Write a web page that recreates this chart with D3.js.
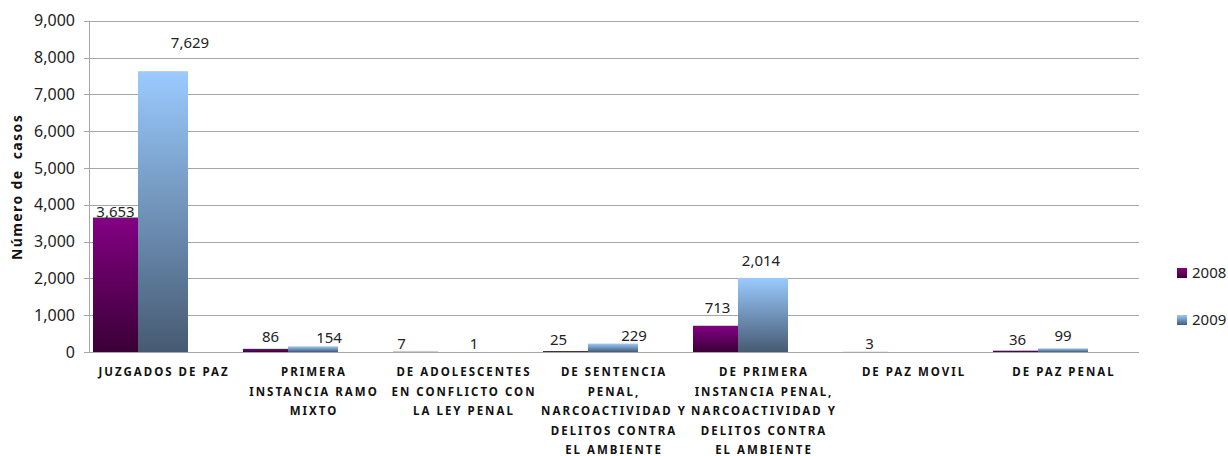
<!DOCTYPE html>
<html><head><meta charset="utf-8">
<script src="https://cdn.jsdelivr.net/npm/d3@7/dist/d3.min.js"></script>
<style>body{margin:0;background:#fff}svg{display:block}</style>
</head><body>
<svg id="c" width="1228" height="456"></svg>
<script>
const categories = ["JUZGADOS DE PAZ","PRIMERA INSTANCIA RAMO MIXTO","DE ADOLESCENTES EN CONFLICTO CON LA LEY PENAL","DE SENTENCIA PENAL, NARCOACTIVIDAD Y DELITOS CONTRA EL AMBIENTE","DE PRIMERA INSTANCIA PENAL, NARCOACTIVIDAD Y DELITOS CONTRA EL AMBIENTE","DE PAZ MOVIL","DE PAZ PENAL"];
const categoryLines = [["JUZGADOS DE PAZ"],["PRIMERA","INSTANCIA RAMO","MIXTO"],["DE ADOLESCENTES","EN CONFLICTO CON","LA LEY PENAL"],["DE SENTENCIA","PENAL,","NARCOACTIVIDAD Y","DELITOS CONTRA","EL AMBIENTE"],["DE PRIMERA","INSTANCIA PENAL,","NARCOACTIVIDAD Y","DELITOS CONTRA","EL AMBIENTE"],["DE PAZ MOVIL"],["DE PAZ PENAL"]];
const seriesNames = ["2008","2009"];
const values2008 = [3653, 86, 7, 25, 713, 3, 36];
const values2009 = [7629, 154, 1, 229, 2014, null, 99];
const yTicks = [0,1000,2000,3000,4000,5000,6000,7000,8000,9000];
const yTitle = "Número de  casos";

// layout: label nudges (px) relative to bar top centre, as placed in the original
const labelDx2008 = [0, 5, -14, -7, 2, 4, 2];
const labelDy2008 = [-6, -12, -8, -11, -18, -8, -11];
const labelDx2009 = [27, 16, 11, 21, -2, 0, 0];
const labelDy2009 = [-28, -9, -8, -8, -17, 0, -13];

(function(){
const svg = d3.select("#c");
const pLeft = 89, pRight = 1139, pTop = 20.7, pBottom = 352;
const x = d3.scaleBand().domain(categories).range([pLeft, pRight]).padding(0);
const y = d3.scaleLinear().domain([0, 9000]).range([pBottom, pTop]);

const defs = svg.append("defs");
function grad(id, c1, c2){
  const g = defs.append("linearGradient").attr("id", id).attr("x1",0).attr("y1",0).attr("x2",0).attr("y2",1);
  g.append("stop").attr("offset","0%").attr("stop-color",c1);
  g.append("stop").attr("offset","100%").attr("stop-color",c2);
}
grad("gP", "#830083", "#3a0036");
grad("gB", "#9acbff", "#465a72");

// gridlines
svg.append("g").selectAll("line").data(yTicks).join("line")
  .attr("x1", pLeft-5).attr("x2", pRight).attr("y1", d=>Math.round(y(d))+0.5).attr("y2", d=>Math.round(y(d))+0.5)
  .attr("stroke", "#a6a6a6").attr("stroke-width", 1);
svg.append("line").attr("x1", pLeft+0.5).attr("x2", pLeft+0.5).attr("y1", y(9000)).attr("y2", pBottom+0.5)
  .attr("stroke", "#a6a6a6");

// y tick labels
const yAxis = d3.axisLeft(y).tickValues(yTicks).tickFormat(d3.format(",")).tickSize(0).tickPadding(14);
const ya = svg.append("g").attr("transform", `translate(${pLeft},0)`).call(yAxis);
ya.select(".domain").remove();
ya.selectAll("text").attr("font-family","Noto Sans, sans-serif").attr("font-size","16px").attr("fill","#222");

// y title
svg.append("text").attr("transform", `translate(22,187) rotate(-90)`).attr("text-anchor","middle")
  .attr("font-family","Noto Sans, sans-serif").attr("font-weight","bold").attr("font-size","14px")
  .attr("letter-spacing","1.4px").attr("fill","#111").attr("xml:space","preserve").style("white-space","pre").text(yTitle);

const w1 = 45, w2 = 50, off = 4;
const bars = svg.append("g");
categories.forEach((c,i)=>{
  const x0 = x(c) + off;
  const v1 = values2008[i], v2 = values2009[i];
  if (v1 != null) {
    bars.append("rect").attr("x", x0).attr("y", y(v1)).attr("width", w1).attr("height", Math.max(0, y(0)-y(v1))).attr("fill","url(#gP)");
  }
  if (v2 != null) {
    bars.append("rect").attr("x", x0+w1).attr("y", y(v2)).attr("width", w2).attr("height", Math.max(0, y(0)-y(v2))).attr("fill","url(#gB)");
  }
});
svg.append("line").attr("x1", pLeft).attr("x2", pRight).attr("y1", pBottom+0.5).attr("y2", pBottom+0.5).attr("stroke","#a6a6a6");

// data labels
const fmt = d3.format(",");
const lab = svg.append("g").attr("font-family","Noto Sans, sans-serif").attr("font-size","15px").attr("fill","#222").attr("text-anchor","middle");
categories.forEach((c,i)=>{
  const x0 = x(c) + off;
  const v1 = values2008[i], v2 = values2009[i];
  if (v1 != null) lab.append("text").attr("x", x0 + w1/2 + labelDx2008[i]).attr("y", y(v1) + labelDy2008[i]).attr("dy","0.35em").text(fmt(v1));
  if (v2 != null) lab.append("text").attr("x", x0 + w1 + w2/2 + labelDx2009[i]).attr("y", y(v2) + labelDy2009[i]).attr("dy","0.35em").text(fmt(v2));
});

// category labels
const cl = svg.append("g").attr("font-family","Noto Sans, sans-serif").attr("font-weight","bold").attr("font-size","11.5px")
  .attr("letter-spacing","2px").attr("fill","#111").attr("text-anchor","middle");
categories.forEach((c,i)=>{
  const cx = x(c) + x.bandwidth()/2;
  categoryLines[i].forEach((ln,j)=>{
    cl.append("text").attr("x", cx).attr("y", 372 + j*19.6).attr("dy","0.35em").text(ln);
  });
});

// legend
const lg = svg.append("g");
seriesNames.forEach((s,i)=>{
  const yy = 273 + i*47;
  lg.append("rect").attr("x",1177).attr("y",yy-5).attr("width",10).attr("height",10).attr("fill", i===0?"url(#gP)":"url(#gB)");
  lg.append("text").attr("x",1192).attr("y",yy).attr("dy","0.35em").attr("font-family","Noto Sans, sans-serif").attr("font-size","15px").attr("fill","#222").text(s);
});
})();
</script>
</body></html>
